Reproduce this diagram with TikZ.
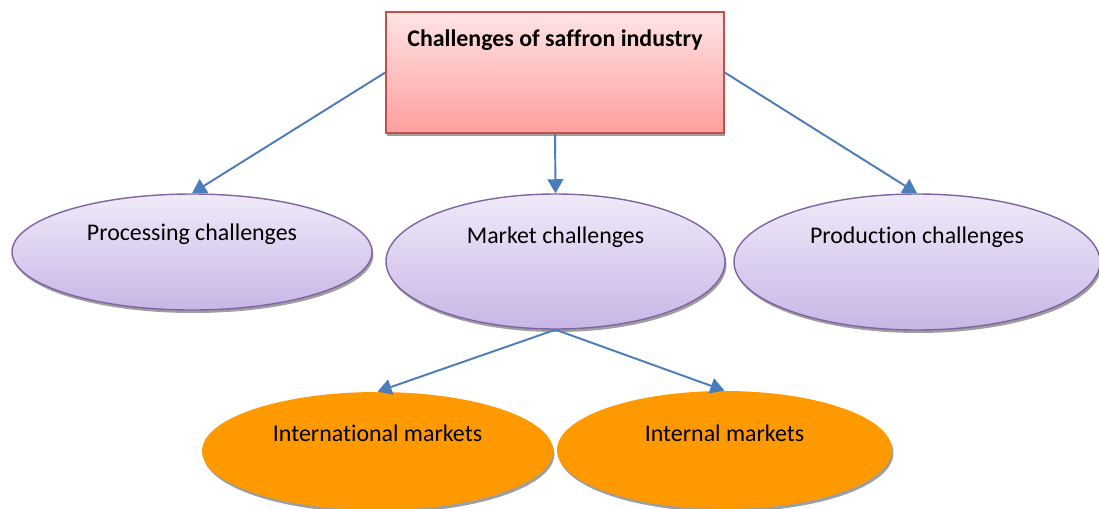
\documentclass[tikz,border=0pt]{standalone}
\usepackage{fontspec}
\setmainfont[Ligatures=NoCommon]{Carlito}
\usetikzlibrary{shapes.geometric,shadows,arrows.meta}

\definecolor{boxred}{RGB}{192,80,77}
\definecolor{pinktop}{RGB}{255,228,228}
\definecolor{pinkbot}{RGB}{255,158,158}
\definecolor{violetline}{RGB}{128,100,162}
\definecolor{lilactop}{RGB}{239,234,249}
\definecolor{lilacbot}{RGB}{200,182,230}
\definecolor{arrowblue}{RGB}{74,126,187}
\definecolor{marketorange}{RGB}{255,153,0}

\tikzset{
  softshadow/.style={drop shadow={shadow xshift=0.8pt, shadow yshift=-1.7pt, fill=black!38, opacity=1}},
  headbox/.style={rectangle, draw=boxred, line width=0.8pt, top color=pinktop, bottom color=pinkbot, inner sep=0pt, softshadow},
  challenge/.style={ellipse, draw=violetline, line width=0.8pt, top color=lilactop, bottom color=lilacbot, inner sep=0pt, softshadow},
  marketnode/.style={ellipse, fill=marketorange, inner sep=0pt, softshadow},
  link/.style={draw=arrowblue, line width=1.1pt, -{Triangle[length=8pt,width=9pt]}},
  caption/.style={font=\fontsize{13.6}{16}\selectfont}
}

\begin{document}
\begin{tikzpicture}
        % Frame of the picture
        \clip (0, 0) rectangle (21.98, -10.16);

        % Top box
        \node[headbox, minimum width=6.76cm, minimum height=2.42cm,
              label={[caption, font=\fontsize{13.6}{16}\selectfont\bfseries, yshift=0.65cm]center:Challenges of saffron industry}]
              (saffron) at (11.1, -1.45) {};

        % The three kinds of challenges
        \node[challenge, minimum width=7.2cm, minimum height=2.32cm,
              label={[caption, yshift=0.36cm]center:Processing challenges}] (processing) at (3.84, -5.04) {};
        \node[challenge, minimum width=6.78cm, minimum height=2.7cm,
              label={[caption, yshift=0.49cm]center:Market challenges}] (market) at (11.11, -5.23) {};
        \node[challenge, minimum width=7.32cm, minimum height=2.72cm,
              label={[caption, yshift=0.5cm]center:Production challenges}] (production) at (18.34, -5.24) {};

        % The two markets
        \node[marketnode, minimum width=7.02cm, minimum height=2.36cm,
              label={[caption, yshift=0.36cm]center:International markets}] (international) at (7.55, -9.02) {};
        \node[marketnode, minimum width=6.7cm, minimum height=2.36cm,
              label={[caption, yshift=0.34cm]center:Internal markets}] (internal) at (14.49, -9.0) {};

        % Arrows
        \draw[link] (saffron.west) -- (processing.north);
        \draw[link] (saffron.south) -- (market.north);
        \draw[link] (saffron.east) -- (production.north);
        \draw[link] (market.south) -- (international.north);
        \draw[link] (market.south) -- (internal.north);
\end{tikzpicture}
\end{document}
